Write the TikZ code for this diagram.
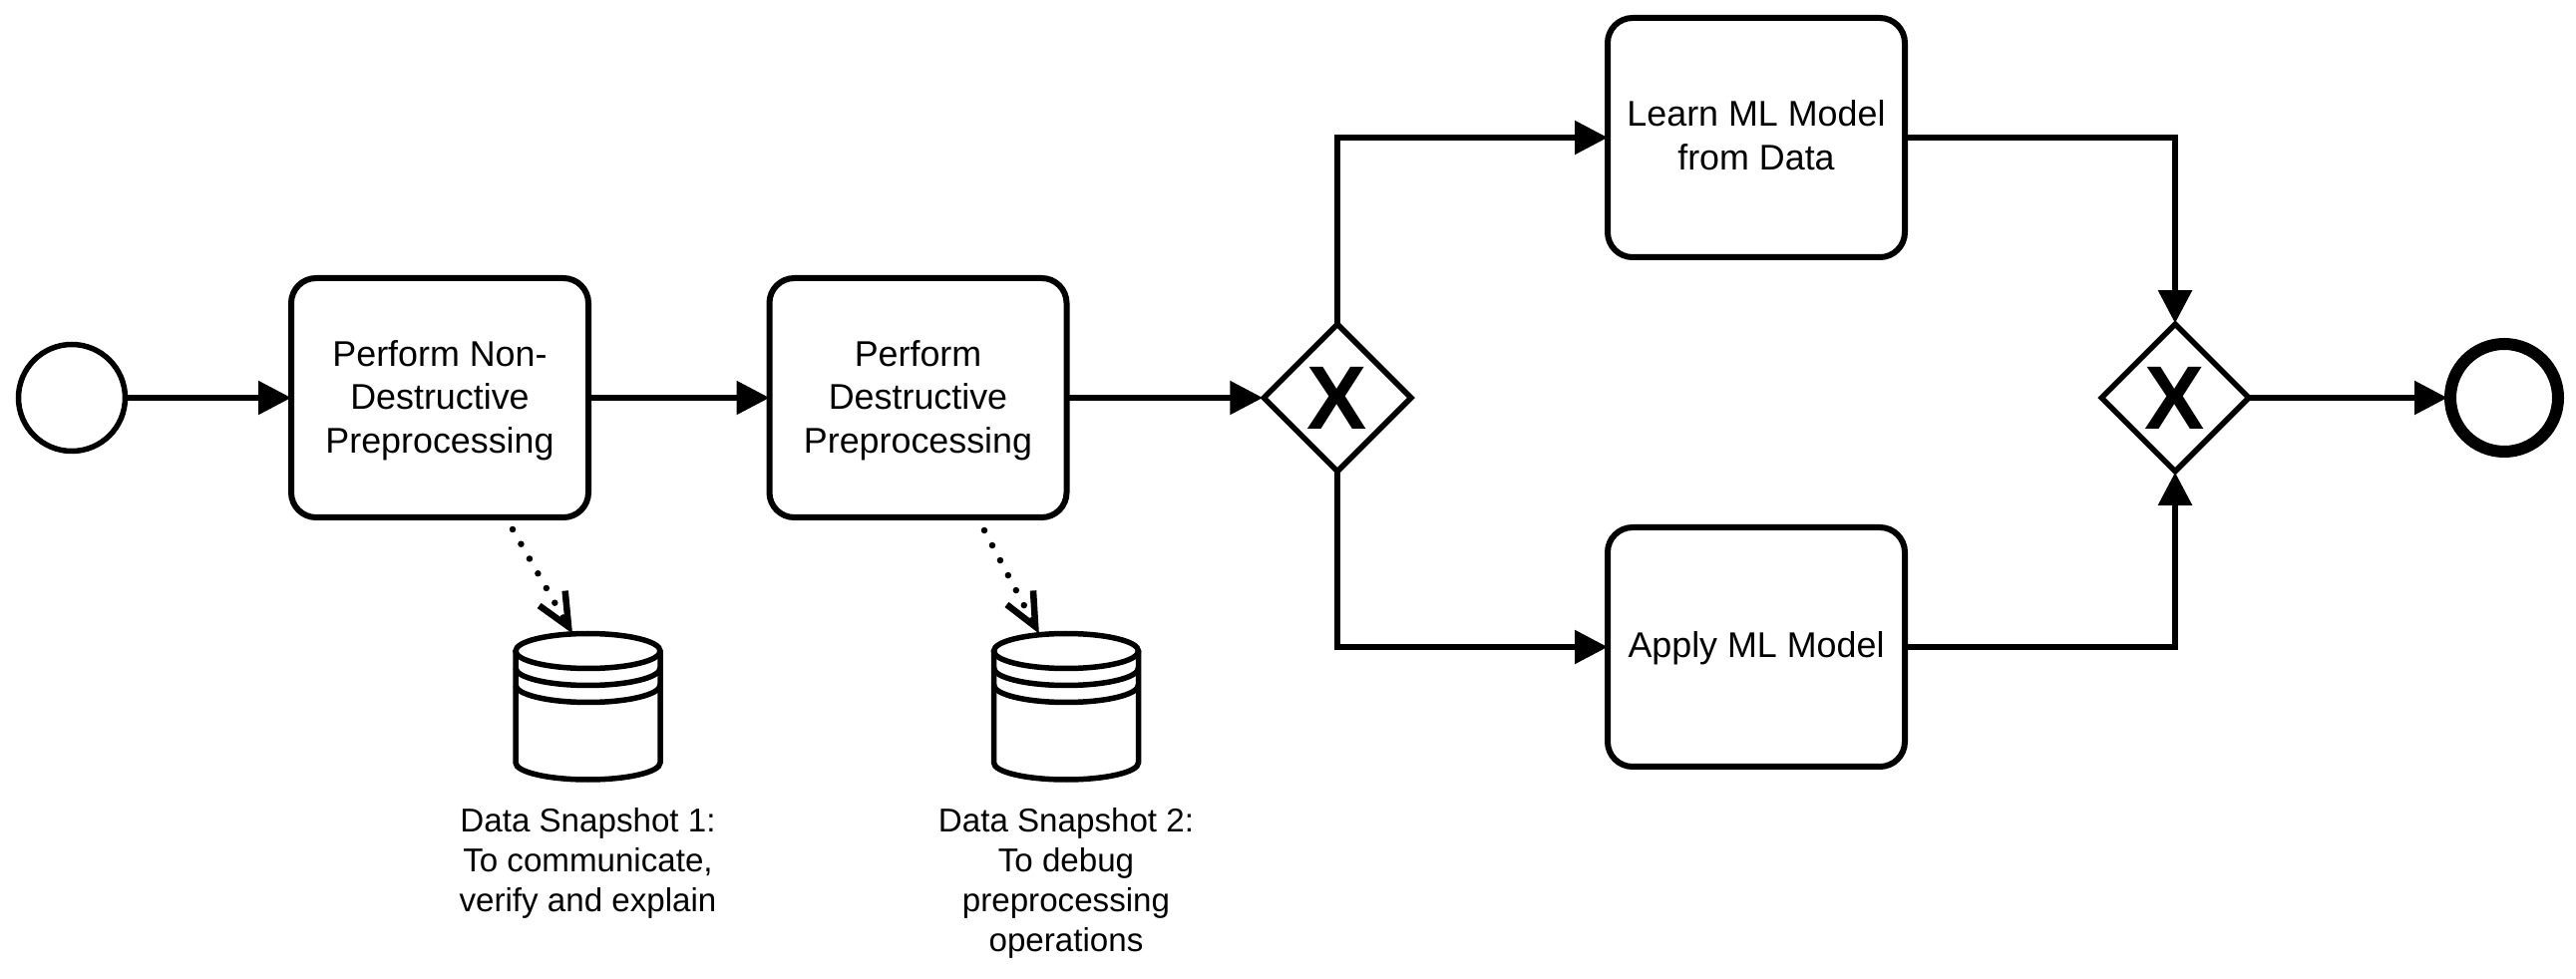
\documentclass[tikz,border=0pt]{standalone}
\usepackage{fontspec}
\setmainfont{Liberation Sans}
\usepackage{tikz}
\usetikzlibrary{arrows.meta}
\usetikzlibrary{shapes.geometric}

\begin{document}
\begin{tikzpicture}[line width=.055cm,
	task/.style={draw, line width=.06cm, rounded corners=.25cm, minimum width=2.98cm, minimum height=2.4cm, align=center, inner sep=0pt, font=\fontsize{10.2}{12.4}\selectfont},
	gate/.style={draw, diamond, aspect=1, minimum size=1.5cm, inner sep=0pt, line join=miter, font=\fontsize{25.7}{28}\selectfont\bfseries},
	event/.style={draw, circle, minimum size=1.07cm, inner sep=0pt},
	note/.style={anchor=north, align=center, inner sep=0pt, font=\fontsize{9.43}{11.45}\selectfont},
	flow/.style={-{Triangle[length=.33cm,width=.33cm]}, line join=miter, shorten >=-.03cm, shorten <=-.03cm},
	assoc/.style={-{Straight Barb[length=.33cm,width=.3cm]}, line width=.065cm, line cap=round, dash pattern=on 0pt off .17cm, shorten >=-.04cm},
	datastore/.pic={
		\draw (0,0) ellipse (.725cm and .175cm);
		\draw (-.725,0) -- (-.725,-1.12) arc[start angle=180, end angle=360, x radius=.725, y radius=.17] -- (.725,0);
		\draw (-.725,-.17) arc[start angle=180, end angle=360, x radius=.725, y radius=.175];
		\draw (-.725,-.34) arc[start angle=180, end angle=360, x radius=.725, y radius=.175];
		\coordinate (-tip) at (-.175,.21);
	}]
	\useasboundingbox (0,0) rectangle (25.83,9.81);
	\node[event] (start) at (.72,5.82) {};
	\node[task, text depth=.6pt] (nondestr) at (4.41,5.82) {Perform Non-\\Destructive\\Preprocessing};
	\node[task, text depth=.6pt] (destr) at (9.205,5.82) {Perform\\Destructive\\Preprocessing};
	\node[gate] (split) at (13.41,5.82) {X};
	\node[task, text depth=1.4pt] (learn) at (17.61,8.43) {Learn ML Model\\from Data};
	\node[task, text depth=1.4pt] (apply) at (17.61,3.32) {Apply ML Model};
	\node[gate] (merge) at (21.81,5.82) {X};
	\node[event, minimum size=1.08cm, line width=.12cm] (finish) at (25.11,5.82) {};
	\pic (snapOne) at (5.895,3.28) {datastore};
	\pic (snapTwo) at (10.69,3.28) {datastore};
	\node[note] (noteOne) at (5.895,1.735) {Data Snapshot 1:\\To communicate,\\verify and explain};
	\node[note] (noteTwo) at (10.69,1.735) {Data Snapshot 2:\\To debug\\preprocessing\\operations};
	\coordinate (nondestrOut) at (5.14,4.5);
	\coordinate (destrOut) at (9.87,4.49);
	\coordinate (snapTwoIn) at (10.40,3.49);
	\draw[flow] (start) -- (nondestr);
	\draw[flow] (nondestr) -- (destr);
	\draw[flow] (destr) -- (split);
	\draw[flow] (split) |- (learn);
	\draw[flow] (split) |- (apply);
	\draw[flow] (learn) -| (merge);
	\draw[flow] (apply) -| (merge);
	\draw[flow] (merge) -- (finish);
	\draw[assoc] (nondestrOut) -- (snapOne-tip);
	\draw[assoc] (destrOut) -- (snapTwoIn);
\end{tikzpicture}
\end{document}
